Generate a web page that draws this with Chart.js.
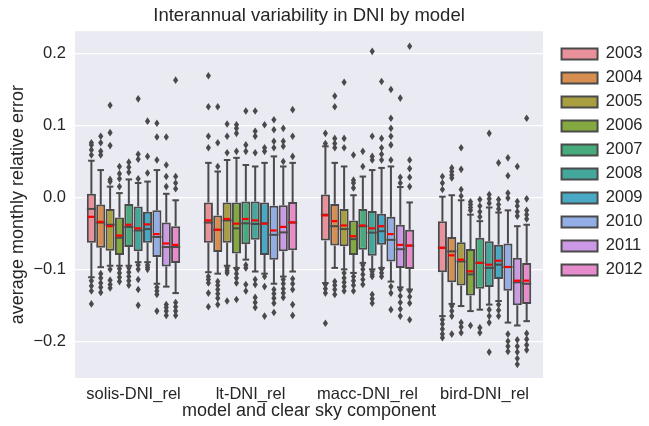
<!DOCTYPE html>
<html>
<head>
<meta charset="utf-8">
<script src="https://cdn.jsdelivr.net/npm/chart.js@4/dist/chart.umd.min.js"></script>
<style>
html,body{margin:0;padding:0;background:#ffffff;}
#wrap{width:649px;height:426px;}
</style>
</head>
<body>
<div id="wrap"><canvas id="c" width="649" height="426"></canvas></div>
<script>
// ---------------- data ----------------
const models = ["solis-DNI_rel", "lt-DNI_rel", "macc-DNI_rel", "bird-DNI_rel"];
const years = ["2003","2004","2005","2006","2007","2008","2009","2010","2011","2012"];
const yTicks = [-0.2, -0.1, 0.0, 0.1, 0.2];

// rows = years, columns = models (solis, lt, macc, bird)
const q1Vals = [
  [-0.063, -0.063, -0.060, -0.104],
  [-0.070, -0.076, -0.067, -0.118],
  [-0.074, -0.063, -0.068, -0.1226],
  [-0.080, -0.078, -0.080, -0.1365],
  [-0.069, -0.065, -0.0726, -0.127],
  [-0.075, -0.059, -0.081, -0.1245],
  [-0.063, -0.080, -0.0657, -0.1133],
  [-0.083, -0.0865, -0.089, -0.1296],
  [-0.096, -0.075, -0.098, -0.150],
  [-0.091, -0.0736, -0.0995, -0.148]
];
const medianVals = [
  [-0.016, -0.035, -0.024, -0.070],
  [-0.035, -0.045, -0.040, -0.075],
  [-0.038, -0.032, -0.044, -0.089],
  [-0.056, -0.043, -0.058, -0.107],
  [-0.041, -0.036, -0.040, -0.091],
  [-0.046, -0.037, -0.049, -0.098],
  [-0.044, -0.036, -0.047, -0.0935],
  [-0.055, -0.052, -0.059, -0.0967],
  [-0.069, -0.0486, -0.072, -0.118],
  [-0.069, -0.035, -0.067, -0.120]
];
const q3Vals = [
  [0.005, -0.007, 0.004, -0.033],
  [-0.010, -0.025, -0.009, -0.055],
  [-0.016, -0.007, -0.016, -0.0625],
  [-0.028, -0.007, -0.032, -0.0717],
  [-0.009, -0.0056, -0.016, -0.056],
  [-0.0125, -0.0056, -0.019, -0.061],
  [-0.020, -0.007, -0.0226, -0.0657],
  [-0.018, -0.0115, -0.027, -0.064],
  [-0.035, -0.011, -0.038, -0.084],
  [-0.040, -0.0064, -0.045, -0.091]
];
const meanVals = [
  [-0.027, -0.032, -0.025, -0.070],
  [-0.034, -0.045, -0.033, -0.0805],
  [-0.040, -0.030, -0.039, -0.0865],
  [-0.053, -0.0365, -0.054, -0.1028],
  [-0.038, -0.030, -0.039, -0.091],
  [-0.043, -0.032, -0.043, -0.0935],
  [-0.0375, -0.0365, -0.040, -0.088],
  [-0.051, -0.046, -0.051, -0.0967],
  [-0.064, -0.041, -0.066, -0.1157],
  [-0.066, -0.0347, -0.067, -0.1157]
];
const whiskerLow = [
  [-0.111, -0.104, -0.119, -0.165],
  [-0.097, -0.106, -0.098, -0.148],
  [-0.095, -0.095, -0.100, -0.151],
  [-0.095, -0.098, -0.105, -0.158],
  [-0.095, -0.0865, -0.091, -0.156],
  [-0.090, -0.103, -0.100, -0.149],
  [-0.090, -0.106, -0.098, -0.144],
  [-0.120, -0.120, -0.117, -0.174],
  [-0.124, -0.110, -0.125, -0.178],
  [-0.133, -0.103, -0.128, -0.172]
];
const whiskerHigh = [
  [0.051, 0.048, 0.071, 0.001],
  [0.038, 0.036, 0.048, 0.003],
  [0.015, 0.052, 0.043, -0.004],
  [0.006, 0.055, 0.003, -0.024],
  [0.025, 0.045, 0.029, -0.033],
  [0.020, 0.043, 0.038, -0.014],
  [0.022, 0.048, 0.041, -0.021],
  [0.038, 0.057, 0.043, -0.018],
  [0.005, 0.043, 0.0144, -0.040],
  [-0.004, 0.048, -0.007, -0.038]
];
const outlierVals = [
  [[0.059,0.066,0.073,0.076,-0.116,-0.123,-0.130,-0.148],
   [0.069,0.085,0.126,0.169,-0.110,-0.114,-0.119,-0.133,-0.152],
   [0.075,0.089,-0.121,-0.127,-0.133,-0.175],
   [0.011,0.020,0.029,-0.170,-0.176,-0.183,-0.190,-0.195]],
  [[0.059,0.064,0.076,0.085,-0.106,-0.112,-0.119,-0.125,-0.132],
   [0.043,0.076,0.126,-0.117,-0.122,-0.128,-0.134,-0.140,-0.149],
   [0.069,0.075,0.082,0.126,0.141,-0.117,-0.122,-0.128,-0.135],
   [0.027,0.031,0.036,0.041,-0.151,-0.158,-0.165,-0.190]],
  [[0.022,0.025,0.072,0.090,0.128,-0.100,-0.115,-0.121,-0.126],
   [0.062,0.085,0.102,-0.098,-0.102,-0.105,-0.144],
   [0.069,0.082,0.160,-0.105,-0.112,-0.118,-0.124,-0.130],
   [0.002,0.011,0.039,0.069,-0.174,-0.180,-0.188]],
  [[0.015,0.026,0.033,0.043,-0.099,-0.105,-0.111,-0.117],
   [0.064,0.089,0.096,0.101,-0.100,-0.106,-0.112,-0.119,-0.142],
   [0.013,0.020,0.024,0.059,-0.110,-0.116,-0.122,-0.130],
   [-0.006,-0.010,-0.014,-0.018,-0.178]],
  [[0.035,0.042,0.049,-0.098,-0.104,-0.110,-0.116,-0.122],
   [0.064,0.073,0.120,-0.094,-0.098,-0.121,-0.130],
   [0.043,0.064,-0.094,-0.100,-0.107,-0.114,-0.121],
   [-0.003,-0.012,-0.020,-0.027,-0.181,-0.188]],
  [[0.026,0.053,0.060,0.137,-0.094,-0.100,-0.114,-0.128,-0.150],
   [0.062,0.085,0.092,0.120,-0.114,-0.121,-0.139,-0.146,-0.153],
   [0.052,0.057,0.085,0.203,-0.103,-0.107,-0.110,-0.135,-0.141,-0.147],
   [0.089,0.004,-0.002,-0.008,-0.156,-0.165,-0.174,-0.215]],
  [[0.034,0.057,0.106,-0.094,-0.097,-0.100],
   [0.064,0.069,0.101,-0.110,-0.124,-0.165],
   [0.052,0.060,0.069,0.082,0.161,-0.100,-0.105,-0.110],
   [-0.003,-0.010,-0.016,0.048,-0.149,-0.157,-0.165]],
  [[0.052,0.084,0.103,-0.125,-0.130,-0.135,-0.158],
   [0.069,0.078,0.094,0.108,-0.128,-0.134,-0.140,-0.147,-0.160],
   [0.052,0.073,0.085,0.096,0.110,0.150,-0.124,-0.133,-0.156],
   [0.006,0.030,0.055,-0.001,-0.190,-0.200,-0.207,-0.214]],
  [[0.015,0.029,0.045,0.084,-0.149,-0.153,-0.158,-0.164],
   [0.050,0.071,0.078,0.096,-0.114,-0.120,-0.127,-0.133,-0.139],
   [0.020,0.028,0.138,-0.128,-0.137,-0.146,-0.155,-0.165],
   [-0.0056,-0.012,-0.020,-0.026,0.043,-0.198,-0.207,-0.215,-0.224,-0.232]],
  [[0.012,0.020,0.029,0.163,-0.146,-0.152,-0.158,-0.164],
   [0.057,0.085,0.122,-0.113,-0.120,-0.128,-0.149,-0.164],
   [0.015,0.028,0.040,0.052,0.210,-0.130,-0.138,-0.147,-0.170],
   [-0.002,-0.018,-0.024,-0.030,0.110,-0.189,-0.197,-0.205,-0.212]]
];

// ---------------- style ----------------
const yearColors = ["#E8919B","#D68F50","#A99E40","#83A940","#47AB7B","#44A79C","#49A9C4","#93AEE6","#CC99E6","#E68BCB"];
const EDGE = "#4a4a4a";
const TXT = "#262626";
const FONT = "'Liberation Sans', Arial, sans-serif";
Chart.defaults.font.family = FONT;
Chart.defaults.color = TXT;

const bgPlugin = {
  id: "plotBg",
  beforeDraw(chart) {
    const a = chart.chartArea, ctx = chart.ctx;
    ctx.save();
    ctx.fillStyle = "#EAEAF2";
    ctx.fillRect(a.left, a.top, a.right - a.left, a.bottom - a.top);
    ctx.restore();
  }
};

const legendShift = {
  id: "legendShift",
  afterLayout(chart) {
    const lg = chart.legend;
    if (lg) { lg.left += 11; lg.right += 11; }
  }
};

function line(ctx, x1, y1, x2, y2) {
  ctx.beginPath(); ctx.moveTo(x1, y1); ctx.lineTo(x2, y2); ctx.stroke();
}

const boxPlugin = {
  id: "boxExtras",
  afterDatasetsDraw(chart) {
    const ctx = chart.ctx, ys = chart.scales.y;
    ctx.save();
    years.forEach((yr, i) => {
      const meta = chart.getDatasetMeta(i);
      meta.data.forEach((bar, j) => {
        const x = bar.x, w = bar.width;
        const pQ3 = ys.getPixelForValue(q3Vals[i][j]);
        const pQ1 = ys.getPixelForValue(q1Vals[i][j]);
        const pHi = ys.getPixelForValue(whiskerHigh[i][j]);
        const pLo = ys.getPixelForValue(whiskerLow[i][j]);
        const pMed = ys.getPixelForValue(medianVals[i][j]);
        const pMean = ys.getPixelForValue(meanVals[i][j]);
        ctx.strokeStyle = EDGE;
        ctx.lineWidth = 2;
        ctx.lineCap = "butt";
        line(ctx, x, pQ3, x, pHi);
        line(ctx, x, pQ1, x, pLo);
        const cw = w * 0.36;
        line(ctx, x - cw, pHi, x + cw, pHi);
        line(ctx, x - cw, pLo, x + cw, pLo);
        line(ctx, x - w / 2, pMed, x + w / 2, pMed);
        ctx.strokeStyle = "#FF0000";
        ctx.lineWidth = 2.2;
        line(ctx, x - w * 0.4, pMean, x + w * 0.3, pMean);
        ctx.fillStyle = EDGE;
        outlierVals[i][j].forEach(v => {
          const py = ys.getPixelForValue(v);
          ctx.beginPath();
          ctx.moveTo(x, py - 3.8);
          ctx.lineTo(x + 2.6, py);
          ctx.lineTo(x, py + 3.8);
          ctx.lineTo(x - 2.6, py);
          ctx.closePath();
          ctx.fill();
        });
      });
    });
    ctx.restore();
  }
};

const datasets = years.map((yr, i) => ({
  label: yr,
  data: models.map((m, j) => [q1Vals[i][j], q3Vals[i][j]]),
  backgroundColor: yearColors[i],
  borderColor: EDGE,
  borderWidth: 2,
  borderSkipped: false,
  barPercentage: 0.97,
  categoryPercentage: 0.8
}));

new Chart(document.getElementById("c"), {
  type: "bar",
  data: { labels: models, datasets: datasets },
  options: {
    responsive: false,
    animation: false,
    devicePixelRatio: 1,
    events: [],
    layout: { padding: { left: 0, right: 7.5, top: 0, bottom: 0 } },
    plugins: {
      tooltip: { enabled: false },
      title: {
        display: true,
        text: "Interannual variability in DNI by model",
        fullSize: false,
        color: TXT,
        font: { size: 18.5, weight: "normal", family: FONT },
        padding: { top: 5, bottom: 4 }
      },
      legend: {
        display: true,
        position: "right",
        align: "start",
        fullSize: false,
        title: { display: true, text: " ", font: { size: 5 }, padding: { top: 1, bottom: 0 } },
        labels: {
          color: TXT,
          font: { size: 16.5, family: FONT },
          boxWidth: 36,
          boxHeight: 11,
          padding: 7.5
        }
      }
    },
    scales: {
      x: {
        grid: { display: false, drawTicks: false },
        border: { display: false },
        ticks: { color: TXT, font: { size: 16.5 }, padding: 7, maxRotation: 0 },
        title: {
          display: true,
          text: "model and clear sky component",
          color: TXT,
          font: { size: 18 },
          padding: { top: 0, bottom: 4 }
        },
        afterFit(s) { s.height = 48; }
      },
      y: {
        min: -0.251,
        max: 0.231,
        grid: { color: "#FFFFFF", lineWidth: 1.3, drawTicks: false },
        border: { display: false },
        afterBuildTicks(s) { s.ticks = yTicks.map(v => ({ value: v })); },
        ticks: {
          color: TXT,
          font: { size: 16.5 },
          padding: 9,
          callback: (v) => Number(v).toFixed(1).replace("-", "\u2212")
        },
        title: {
          display: true,
          text: "average monthly relative error",
          color: TXT,
          font: { size: 18 },
          padding: { top: 7.5, bottom: 0 }
        },
        afterFit(s) { s.width = 75; }
      }
    }
  },
  plugins: [bgPlugin, legendShift, boxPlugin]
});
</script>
</body>
</html>
